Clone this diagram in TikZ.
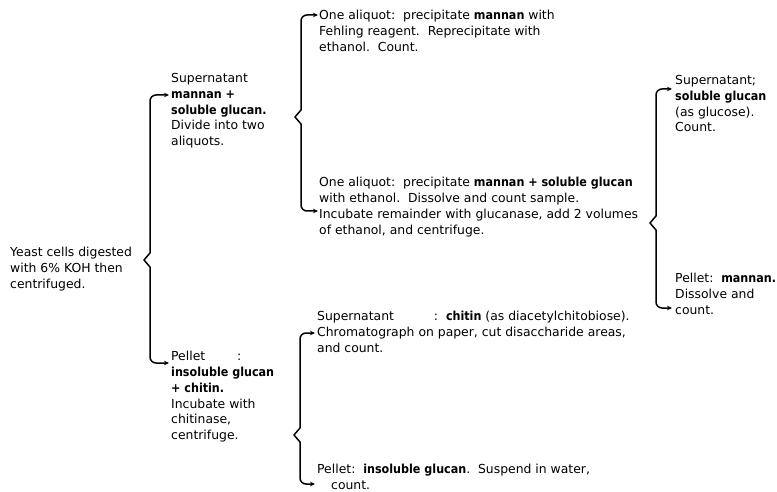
\documentclass[tikz,border=0pt]{standalone}
\usepackage{fontspec}
\setmainfont{DejaVu Sans}
\newfontfamily\bx[FakeStretch=0.9]{DejaVu Sans Bold}
\usetikzlibrary{arrows.meta,calc}
\newcommand\bracepath[3]{%
  \draw[brk] let \p1=(#1), \p2=(#2), \p3=(#3), \n1={\x2+6bp} in
    (\p1) -- (\n1+6bp,\y1) to[out=180,in=90] (\n1,\y1-6bp)
    -- (\n1,\y2+7bp) -- (\p2) -- (\n1,\y2-7bp)
    -- (\n1,\y3+6bp) to[out=-90,in=180] (\n1+6bp,\y3) -- (\p3);}
\begin{document}
\begin{tikzpicture}[x=1bp,y=-1bp,
  txt/.style={anchor=north west,inner sep=0pt,align=left,
    font=\fontsize{12.4bp}{15.8bp}\selectfont},
  brk/.style={line width=1.5bp,line join=round,
    {Stealth[length=5bp,width=4.5bp]}-{Stealth[length=5bp,width=4.5bp]}}]
\useasboundingbox (0,0) rectangle (777,492);

% texts
\node[txt] (yeast) at (10,247) {Yeast cells digested\\with 6\% KOH then\\centrifuged.};
\node[txt] (sup1) at (171,73) {Supernatant\\{\bx mannan +}\\{\bx soluble glucan.}\\Divide into two\\aliquots.};
\node[txt] (pel1) at (171,351) {Pellet\hspace{32bp}:\\{\bx insoluble glucan}\\{\bx + chitin.}\\Incubate with\\chitinase,\\centrifuge.};
\node[txt] (al1) at (319,10) {One aliquot:\ \ precipitate {\bx mannan} with\\Fehling reagent.\ \ Reprecipitate with\\ethanol.\ \ Count.};
\node[txt] (al2) at (319,177) {One aliquot:\ \ precipitate {\bx mannan + soluble glucan}\\with ethanol.\ \ Dissolve and count sample.\\Incubate remainder with glucanase, add 2 volumes\\of ethanol, and centrifuge.};
\node[txt] (sup2) at (675,75) {Supernatant;\\{\bx soluble glucan}\\(as glucose).\\Count.};
\node[txt] (pel2) at (675,273) {Pellet:\ \ {\bx mannan.}\\Dissolve and\\count.};
\node[txt] (sup3) at (317,311) {Supernatant\hspace{40bp}:\ \ {\bx chitin} (as diacetylchitobiose).\\Chromatograph on paper, cut disaccharide areas,\\and count.};
\node[txt] (pel3) at (317,464) {Pellet:\ \ {\bx insoluble glucan}.\ \ Suspend in water,\\\hspace{14bp}count.};

% bracket coordinates
\coordinate (b1t) at (169,95);  \coordinate (b1m) at (144,260); \coordinate (b1b) at (169,363);
\coordinate (b2t) at (318,15);  \coordinate (b2m) at (295,117); \coordinate (b2b) at (318,211);
\coordinate (b3t) at (672,89);  \coordinate (b3m) at (650,223); \coordinate (b3b) at (672,308);
\coordinate (b4t) at (315,333); \coordinate (b4m) at (294,435); \coordinate (b4b) at (315,484);

\bracepath{b1t}{b1m}{b1b}
\bracepath{b2t}{b2m}{b2b}
\bracepath{b3t}{b3m}{b3b}
\bracepath{b4t}{b4m}{b4b}
\end{tikzpicture}
\end{document}
